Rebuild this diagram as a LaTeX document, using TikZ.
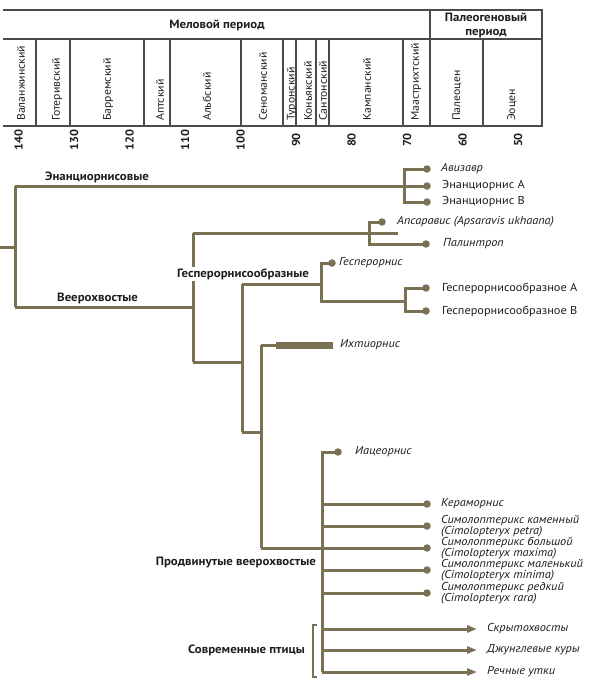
\documentclass[tikz,border=0pt]{standalone}
\usepackage{fontspec}
\setmainfont{PT Sans}[FakeStretch=1.07]
\usetikzlibrary{arrows.meta}
\definecolor{branch}{HTML}{7A7154}
\definecolor{tblc}{HTML}{4A4A4A}
\definecolor{txt}{HTML}{1E1E1E}
\begin{document}
\begin{tikzpicture}[x=1pt,y=-1pt,
  br/.style={draw=branch, line width=3pt},
  arr/.style={br, -{Triangle[length=10pt,width=7pt]}},
  tipdot/.style={circle, fill=branch, inner sep=0pt, minimum size=7.5pt},
  lab/.style={anchor=west, font=\fontsize{11.5}{12.5}\selectfont, inner sep=0pt, text=txt},
  ilab/.style={anchor=west, font=\fontsize{11.5}{11}\selectfont\itshape, inner sep=0pt, text=txt, align=left},
  grp/.style={font=\fontsize{12}{13}\selectfont\bfseries, inner sep=0pt, text=txt},
  stage/.style={rotate=90, anchor=west, font=\fontsize{11}{13}\selectfont, inner sep=0pt, text=txt},
  tick/.style={rotate=90, font=\fontsize{11.5}{13}\selectfont\bfseries, inner sep=0pt, text=txt},
  tbl/.style={draw=tblc, line width=1.1pt}]
\useasboundingbox[fill=white] (0,0) rectangle (590,680);

% ---------- time table ----------
\draw[tbl] (3,10) -- (542,10) -- (542,126) -- (3,126);
\draw[tbl] (3,39) -- (542,39);
\draw[tbl] (430,10) -- (430,126);
\foreach \x in {36,70,144,170,241,283,296,316,329,403,483} \draw[tbl] (\x,39) -- (\x,126);
\node[grp] (mel) at (217,25) {Меловой период};
\node[grp, align=center, font=\fontsize{12}{14}\selectfont\bfseries] (pal) at (486,25) {Палеогеновый\\период};
\node[stage] (s1) at (21,121) {Валанжинский};
\node[stage] (s2) at (57,121) {Готеривский};
\node[stage] (s3) at (108,121) {Барремский};
\node[stage] (s4) at (160,121) {Аптский};
\node[stage] (s5) at (207,121) {Альбский};
\node[stage] (s6) at (263,121) {Сеноманский};
\node[stage] (s7) at (292,121) {Туронский};
\node[stage] (s8) at (308,121) {Коньякский};
\node[stage] (s9) at (323,121) {Сантонский};
\node[stage] (s10) at (367,121) {Кампанский};
\node[stage] (s11) at (416,121) {Маастрихтский};
\node[stage] (s12) at (457,121) {Палеоцен};
\node[stage] (s13) at (512,121) {Эоцен};
\foreach \m/\x in {140/18.5,130/74,120/129.5,110/185,100/240.5,90/296,80/351.5,70/407,60/462.5,50/518}
  \node[tick] (t\m) at (\x,140) {\m};

% ---------- tree coordinates ----------
\coordinate (root) at (0,247);
\coordinate (r) at (15,247);
\coordinate (rT) at (15,186);
\coordinate (rB) at (15,307);
% Enantiornithes
\coordinate (en) at (404,186);
\coordinate (enT) at (404,169);
\coordinate (enB) at (404,202);
\node[tipdot] (avz) at (427,169) {};
\node[tipdot] (ena) at (427,186) {};
\node[tipdot] (enb) at (427,202) {};
% Ornithuromorpha
\coordinate (orn) at (193,307);
\coordinate (ornT) at (193,233);
\coordinate (ornB) at (193,362);
\coordinate (apsEnd) at (398,233);
\coordinate (aps) at (369,233);
\coordinate (apsT) at (369,222);
\coordinate (apsB) at (369,244);
\node[tipdot] (apsd) at (382,222) {};
\node[tipdot] (pald) at (426,244) {};
% next node
\coordinate (n2) at (242,362);
\coordinate (n2T) at (242,284);
\coordinate (n2B) at (242,432);
% Hesperornithes
\coordinate (hes) at (321,284);
\coordinate (hesT) at (321,263);
\coordinate (hesB) at (321,301);
\node[tipdot] (hesd) at (332,263) {};
\coordinate (hab) at (405,301);
\coordinate (habT) at (405,288);
\coordinate (habB) at (405,311);
\node[tipdot] (hAd) at (426,288) {};
\node[tipdot] (hBd) at (426,311) {};
% Ichthyornis node
\coordinate (n3) at (261,432);
\coordinate (n3T) at (261,345);
\coordinate (n3B) at (261,548);
\coordinate (ichS) at (276,345);
\coordinate (ichE) at (333,345);
% Advanced
\coordinate (adv) at (322,548);
\coordinate (advT) at (322,452);
\coordinate (advB) at (322,672);
\node[tipdot] (iad) at (338,452) {};
\foreach \n/\y in {ker/504, cp/526, cm/548, cmi/570, cr/593}{
  \coordinate (\n o) at (322,\y);
  \node[tipdot] (\n d) at (427,\y) {};
}
\foreach \n/\y in {skr/629, dzh/650, utk/672}{
  \coordinate (\n o) at (322,\y);
  \coordinate (\n e) at (477,\y);
}

% ---------- branches ----------
\draw[br] (root) -- (r);
\draw[br] (rT) -- (rB);
\draw[br] (rT) -- (en);
\draw[br] (avz.center) -- (enT) -- (enB) -- (enb.center);
\draw[br] (en) -- (ena.center);
\draw[br] (rB) -- (orn);
\draw[br] (ornT) -- (ornB);
\draw[br] (ornT) -- (apsEnd);
\draw[br] (apsd.center) -- (apsT) -- (apsB) -- (pald.center);
\draw[br] (ornB) -- (n2);
\draw[br] (n2T) -- (n2B);
\draw[br] (n2T) -- (hes);
\draw[br] (hesd.center) -- (hesT) -- (hesB) -- (hab);
\draw[br] (hAd.center) -- (habT) -- (habB) -- (hBd.center);
\draw[br] (n2B) -- (n3);
\draw[br] (n3T) -- (n3B);
\draw[br] (n3T) -- (ichS);
\draw[draw=branch, line width=7pt] (ichS) -- (ichE);
\draw[br] (n3B) -- (adv);
\draw[br] (iad.center) -- (advT) -- (advB);
\foreach \n in {ker, cp, cm, cmi, cr} \draw[br] (\n o) -- (\n d.center);
\foreach \n in {skr, dzh, utk} \draw[arr] (\n o) -- (\n e);
% bracket
\draw[draw=branch, line width=2.2pt] (317,625) -- (313,625) -- (313,677) -- (317,677);
\coordinate (brk) at (313,650);

% ---------- tip labels ----------
\node[ilab] (l1) at (441,169) {Авизавр};
\node[lab] (l2) at (442,186) {Энанциорнис А};
\node[lab] (l3) at (442,202) {Энанциорнис В};
\node[ilab] (l4) at (397,222) {Апсаравис (Apsaravis ukhaana)};
\node[ilab] (l5) at (443,244) {Палинтроп};
\node[ilab] (l6) at (339,263) {Гесперорнис};
\node[lab] (l7) at (442,288) {Гесперорнисообразное А};
\node[lab] (l8) at (442,311) {Гесперорнисообразное В};
\node[ilab] (l9) at (340,345) {Ихтиорнис};
\node[ilab] (l10) at (355,452) {Иацеорнис};
\node[ilab] (l11) at (441,504) {Кераморнис};
\node[ilab] (l12) at (441,526) {Симолоптерикс каменный\\(Cimolopteryx petra)};
\node[ilab] (l13) at (441,548) {Симолоптерикс большой\\(Cimolopteryx maxima)};
\node[ilab] (l14) at (441,570) {Симолоптерикс маленький\\(Cimolopteryx minima)};
\node[ilab] (l15) at (441,593) {Симолоптерикс редкий\\(Cimolopteryx rara)};
\node[ilab] (l16) at (487,629) {Скрытохвосты};
\node[ilab] (l17) at (487,650) {Джунглевые куры};
\node[ilab] (l18) at (487,672) {Речные утки};

% ---------- group labels ----------
\node[grp, anchor=west] (g1) at (45,177) {Энанциорнисовые};
\node[grp, anchor=west] (g2) at (57,298) {Веерохвостые};
\node[grp, anchor=west, fill=white, inner ysep=1.5pt] (g3) at (177,274) {Гесперорнисообразные};
\node[grp, anchor=east] (g4) at (316,563) {Продвинутые веерохвостые};
\node[grp, anchor=east] (g5) at (305,650) {Современные птицы};
\end{tikzpicture}
\end{document}
